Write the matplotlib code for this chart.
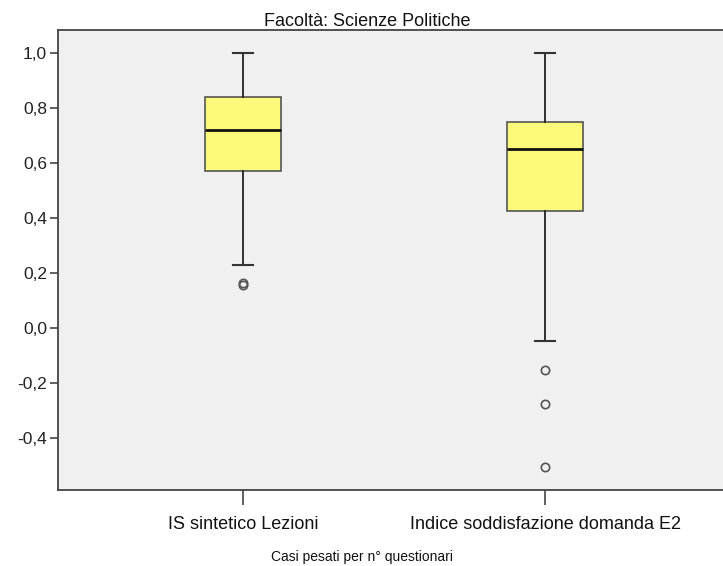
import matplotlib
matplotlib.use('Agg')
import matplotlib.pyplot as plt
from matplotlib.ticker import FuncFormatter

# boxplot summary values
labels = ['IS sintetico Lezioni', 'Indice soddisfazione domanda E2']
whislo = [0.229, -0.047]
q1 = [0.571, 0.427]
med = [0.720, 0.652]
q3 = [0.840, 0.750]
whishi = [1.0, 1.0]
fliers = [[0.156, 0.165], [-0.152, -0.277, -0.505]]

plt.rcParams['font.family'] = ['Liberation Sans', 'DejaVu Sans']

fig = plt.figure(figsize=(7.23, 5.66), dpi=100)
ax = fig.add_axes([58 / 723, 76 / 566, 1 - 58 / 723, 460 / 566])
ax.set_facecolor('#F0F0F0')

stats = []
for i in range(len(labels)):
    stats.append({'label': labels[i], 'whislo': whislo[i], 'q1': q1[i],
                  'med': med[i], 'q3': q3[i], 'whishi': whishi[i],
                  'fliers': fliers[i]})

ax.bxp(stats, positions=[1, 2], widths=0.25, patch_artist=True,
       capwidths=0.065,
       boxprops=dict(facecolor='#FBF87A', edgecolor='#555555', linewidth=1.2),
       medianprops=dict(color='#111111', linewidth=2),
       whiskerprops=dict(color='#222222', linewidth=1.3),
       capprops=dict(color='#333333', linewidth=1.5),
       flierprops=dict(marker='o', markerfacecolor='none',
                       markeredgecolor='#555555', markersize=6,
                       markeredgewidth=1.2))

ax.set_xlim(0.387, 2.589)
ax.set_ylim(-0.589, 1.084)
ax.set_yticks([1.0, 0.8, 0.6, 0.4, 0.2, 0.0, -0.2, -0.4])
ax.yaxis.set_major_formatter(FuncFormatter(lambda v, p: '{:.1f}'.format(v).replace('.', ',')))
ax.tick_params(axis='y', direction='out', length=6, width=1.2, color='#444444',
               labelsize=12.5, labelcolor='#222222', pad=2)
ax.tick_params(axis='x', direction='out', length=11, width=1.2, color='#444444',
               labelsize=13, labelcolor='#111111', pad=8)
for s in ax.spines.values():
    s.set_color('#444444')
    s.set_linewidth(1.3)
# plot area runs off the right edge in the original
ax.spines['right'].set_visible(False)

fig.text(367 / 723, 1 - 21 / 566, 'Facoltà: Scienze Politiche', ha='center',
         va='center', fontsize=13, color='#111111')
fig.text(362 / 723, 1 - 557 / 566, 'Casi pesati per n° questionari', ha='center',
         va='center', fontsize=10, color='#111111')

fig.savefig('out.png', dpi=100)
plt.close(fig)
